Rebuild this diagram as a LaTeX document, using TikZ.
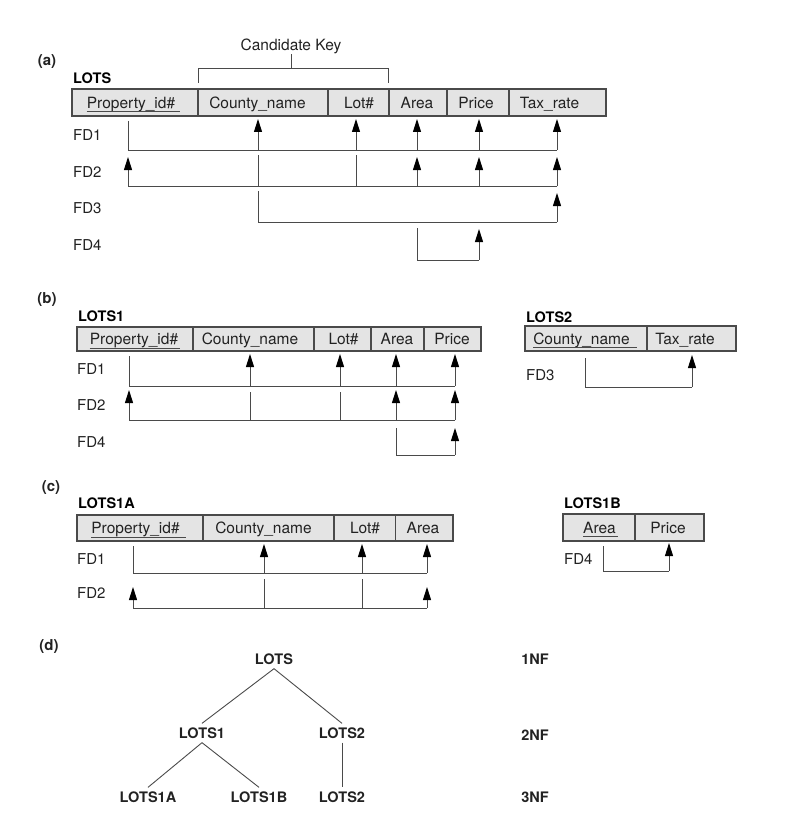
\documentclass[tikz,border=0pt]{standalone}
\usepackage{fontspec}
\setmainfont{TeX Gyre Heros}
\usetikzlibrary{arrows.meta}
\definecolor{cellfill}{HTML}{E4E4E4}
\definecolor{linegray}{HTML}{4A4A4A}
\definecolor{txt}{HTML}{222222}
\tikzset{
 cellbox/.style={draw=linegray, fill=cellfill, line width=1.1pt},
 divider/.style={draw=linegray, line width=1.1pt},
 ctext/.style={anchor=base, yshift=-5.6pt, inner sep=0pt, font=\fontsize{15.5}{18}\selectfont, text=txt},
 fdlab/.style={anchor=base west, yshift=-5.4pt, inner sep=0pt, font=\fontsize{15}{18}\selectfont, text=txt},
 rel/.style={anchor=base west, yshift=-5.2pt, inner sep=0pt, font=\bfseries\fontsize{14.5}{17}\selectfont, text=black},
 part/.style={anchor=center, inner sep=0pt, font=\bfseries\fontsize{15}{18}\selectfont, text=txt},
 fd/.style={draw=linegray, line width=1pt},
 fdarrow/.style={fd, -{Triangle[length=13pt,width=8pt,color=black]}},
 uline/.style={draw=linegray, line width=0.8pt},
 tree/.style={inner sep=4pt, font=\bfseries\fontsize{14.5}{17}\selectfont, text=txt},
 treeline/.style={draw=linegray, line width=0.9pt},
}
\begin{document}
\begin{tikzpicture}[x=1pt,y=-1pt]
\useasboundingbox (0,0) rectangle (791,824);

% ---------------- (a) ----------------
\node[part] (pa) at (47,62) {(a)};
\node[ctext] (ck) at (291,45) {Candidate Key};
\coordinate (ckm) at (291,69);
\draw[fd] (ck.south) -- (ckm);
\draw[fd] (198,83) -- (198,69) -- (388,69) -- (388,83);
\node[rel] (lots) at (73,78) {LOTS};
\draw[cellbox] (72,89) rectangle (606,116);
\foreach \x in {198,328,389,447,509} \draw[divider] (\x,89) -- (\x,116);
\node[ctext] (apid) at (131,102.5) {Property\_id\#};
\draw[uline] ([yshift=-3.5pt]apid.base west) -- ([yshift=-3.5pt,xshift=5pt]apid.base east);
\node[ctext] (acty) at (257.5,102.5) {County\_name};
\node[ctext] (alot) at (359,102.5) {Lot\#};
\node[ctext] (aarea) at (417,102.5) {Area};
\node[ctext] (aprice) at (476,102.5) {Price};
\node[ctext] (atax) at (549.5,102.5) {Tax\_rate};
\node[fdlab] (afd1) at (73,135) {FD1};
\node[fdlab] (afd2) at (73,172) {FD2};
\node[fdlab] (afd3) at (73,208) {FD3};
\node[fdlab] (afd4) at (73,245) {FD4};
% FD1
\draw[fd] (128,121) -- (128,150) -- (557,150);
\foreach \x in {258,356,417,479,557} \draw[fdarrow] (\x,150) -- (\x,119);
% FD2
\draw[fd] (128,186) -- (557,186);
\draw[fdarrow] (128,186) -- (128,157);
\foreach \x in {258,356} \draw[fd] (\x,155) -- (\x,186);
\foreach \x in {417,479,557} \draw[fdarrow] (\x,186) -- (\x,157);
% FD3
\draw[fd] (258,191) -- (258,222) -- (557,222);
\draw[fdarrow] (557,222) -- (557,193);
% FD4
\draw[fd] (417,228) -- (417,260) -- (479,260);
\draw[fdarrow] (479,260) -- (479,229);

% ---------------- (b) ----------------
\node[part] (pb) at (47,300) {(b)};
\node[rel] (lots1) at (78,316) {LOTS1};
\draw[cellbox] (77,327) rectangle (481,351);
\foreach \x in {193,314,371,424} \draw[divider] (\x,327) -- (\x,351);
\node[ctext] (bpid) at (134,339) {Property\_id\#};
\draw[uline] ([yshift=-3.5pt]bpid.base west) -- ([yshift=-3.5pt,xshift=2pt]bpid.base east);
\node[ctext] (bcty) at (250,339) {County\_name};
\node[ctext] (blot) at (343.5,339) {Lot\#};
\node[ctext] (barea) at (397,339) {Area};
\node[ctext] (bprice) at (452,339) {Price};
\node[fdlab] (bfd1) at (77,369) {FD1};
\node[fdlab] (bfd2) at (77,405) {FD2};
\node[fdlab] (bfd4) at (77,442) {FD4};
\draw[fd] (129,356) -- (129,386) -- (455,386);
\foreach \x in {250,340,396,455} \draw[fdarrow] (\x,386) -- (\x,354);
\draw[fd] (129,420) -- (455,420);
\draw[fdarrow] (129,420) -- (129,390);
\foreach \x in {250,340} \draw[fd] (\x,392) -- (\x,420);
\foreach \x in {396,455} \draw[fdarrow] (\x,420) -- (\x,390);
\draw[fd] (396,428) -- (396,455) -- (455,455);
\draw[fdarrow] (455,455) -- (455,428);

% LOTS2
\node[rel] (lots2) at (526,317) {LOTS2};
\draw[cellbox] (525,326) rectangle (736,351);
\draw[divider] (647,326) -- (647,351);
\node[ctext] (ccty) at (581.5,338.5) {County\_name};
\draw[uline] ([yshift=-3.5pt]ccty.base west) -- ([yshift=-3.5pt,xshift=7pt]ccty.base east);
\node[ctext] (ctax) at (685,338.5) {Tax\_rate};
\node[fdlab] (cfd3) at (526,375) {FD3};
\draw[fd] (585,358) -- (585,387) -- (692,387);
\draw[fdarrow] (692,387) -- (692,355);

% ---------------- (c) ----------------
\node[part] (pc) at (51,488) {(c)};
\node[rel] (lots1a) at (78,503) {LOTS1A};
\draw[cellbox] (77,515) rectangle (453,541);
\foreach \x in {203,334,395.5} \draw[divider] (\x,515) -- (\x,541);
\node[ctext] (dpid) at (135.5,528) {Property\_id\#};
\draw[uline] ([yshift=-3.5pt]dpid.base west) -- ([yshift=-3.5pt,xshift=6pt]dpid.base east);
\node[ctext] (dcty) at (263.5,528) {County\_name};
\node[ctext] (dlot) at (365,528) {Lot\#};
\node[ctext] (darea) at (423,528) {Area};
\node[fdlab] (dfd1) at (77,559) {FD1};
\node[fdlab] (dfd2) at (77,593) {FD2};
\draw[fd] (133,546) -- (133,573) -- (427,573);
\foreach \x in {264,362,427} \draw[fdarrow] (\x,573) -- (\x,544);
\draw[fd] (133,608) -- (427,608);
\draw[fdarrow] (133,608) -- (133,587);
\foreach \x in {264,362} \draw[fd] (\x,579) -- (\x,608);
\draw[fdarrow] (427,608) -- (427,587);

% LOTS1B
\node[rel] (lots1b) at (564,503) {LOTS1B};
\draw[cellbox] (563,514) rectangle (704,541);
\draw[divider] (635,514) -- (635,541);
\node[ctext] (earea) at (599.5,527.5) {Area};
\draw[uline] ([yshift=-3.5pt]earea.base west) -- ([yshift=-3.5pt,xshift=2pt]earea.base east);
\node[ctext] (eprice) at (668,527.5) {Price};
\node[fdlab] (efd4) at (564,559) {FD4};
\draw[fd] (603,546) -- (603,571) -- (669,571);
\draw[fdarrow] (669,571) -- (669,543);

% ---------------- (d) ----------------
\node[part] (pd) at (49,647) {(d)};
\node[tree] (tlots) at (274,659) {LOTS};
\node[tree] (tlots1) at (202,733) {LOTS1};
\node[tree] (tlots2) at (342,733) {LOTS2};
\node[tree] (tlots1a) at (148,797) {LOTS1A};
\node[tree] (tlots1b) at (259,797) {LOTS1B};
\node[tree] (tlots2b) at (342,797) {LOTS2};
\node[tree] (nf1) at (535,659) {1NF};
\node[tree] (nf2) at (535,735) {2NF};
\node[tree] (nf3) at (535,797) {3NF};
\draw[treeline] (tlots.south) -- (tlots1.north);
\draw[treeline] (tlots.south) -- (tlots2.north);
\draw[treeline] (tlots1.south) -- (tlots1a.north);
\draw[treeline] (tlots1.south) -- (tlots1b.north);
\draw[treeline] (tlots2.south) -- (tlots2b.north);
\end{tikzpicture}
\end{document}
